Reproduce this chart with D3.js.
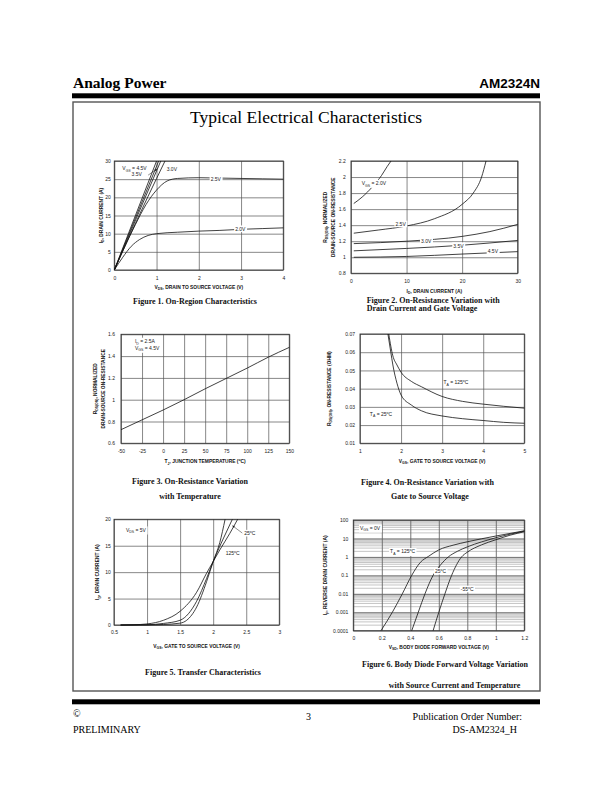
<!DOCTYPE html>
<html><head><meta charset="utf-8">
<script src="https://cdn.jsdelivr.net/npm/d3@7"></script>
<style>body{margin:0;background:#fff}</style>
</head><body><svg id="c" width="612" height="792" xmlns="http://www.w3.org/2000/svg"></svg>
<script>
// ---------------- DATA ----------------
// Figure 1: On-Region Characteristics (VDS [V], ID [A])
const f1XTicks = [0,1,2,3,4];
const f1YTicks = [0,5,10,15,20,25,30];
const f1Vgs45 = [[0,0],[1.0,30]];
const f1Vgs40 = [[0,0],[1.05,30]];
const f1Vgs35 = [[0,0],[1.1,30]];
const f1Vgs30 = [[0,0],[0.4,10.3],[0.8,20.3],[1.2,30]];
const f1Vgs25 = [[0,0],[0.25,6.5],[0.5,12.5],[0.75,18],[1.0,22],[1.25,24.5],[1.5,25.2],[2,25.4],[2.5,25.3],[3,25.2],[3.5,25.1],[4,25.0]];
const f1Vgs20 = [[0,0],[0.2,3.5],[0.4,6.5],[0.6,8.4],[0.8,9.5],[1.0,10.0],[1.5,10.4],[2,10.7],[2.5,10.9],[3,11.2],[3.5,11.4],[4,11.6]];
const f1Labels = [["V_{GS} = 4.5V",0.19,27.5],["3.5V",0.41,25.9],["3.0V",1.24,27.3],["2.5V",2.28,24.6],["2.0V",2.86,10.8]];

// Figure 2: On-Resistance vs Drain Current (ID [A], normalized R)
const f2XTicks = [0,10,20,30];
const f2YTicks = [0.8,1,1.2,1.4,1.6,1.8,2,2.2];
const f2Vgs20 = [[0.5,1.67],[2,1.75],[4,1.89],[5.5,2.02],[6.5,2.13],[7.2,2.2]];
const f2Vgs25 = [[0.5,1.30],[5,1.34],[10,1.39],[15,1.48],[20,1.66],[22,1.8],[23.5,2.0],[24.3,2.2]];
const f2Vgs30 = [[0.5,1.17],[10,1.20],[20,1.26],[25,1.32],[30,1.41]];
const f2Vgs35 = [[0.5,1.08],[10,1.11],[20,1.15],[30,1.21]];
const f2Vgs45 = [[0.5,1.0],[10,1.01],[20,1.04],[30,1.07]];
const f2Labels = [["V_{GS} = 2.0V",1.93,1.90],["2.5V",8.0,1.39],["3.0V",12.6,1.18],["3.5V",18.4,1.12],["4.5V",24.6,1.05]];

// Figure 3: On-Resistance vs Temperature (TJ [C], normalized R)
const f3XTicks = [-50,-25,0,25,50,75,100,125,150];
const f3YTicks = [0.6,0.8,1,1.2,1.4,1.6];
const f3Curve = [[-50,0.725],[-25,0.815],[0,0.905],[25,1.0],[50,1.1],[75,1.195],[100,1.29],[125,1.39],[150,1.48]];
const f3Labels = [["I_{D} = 2.5A",-33.4,1.52],["V_{GS} = 4.5V",-33.4,1.456]];

// Figure 4: On-Resistance vs Gate Voltage (VGS [V], R [ohm])
const f4XTicks = [1,2,3,4,5];
const f4YTicks = [0.01,0.02,0.03,0.04,0.05,0.06,0.07];
const f4T25 = [[1.68,0.07],[1.75,0.06],[1.8,0.053],[1.9,0.043],[2.0,0.0365],[2.25,0.031],[2.5,0.0278],[3,0.025],[3.5,0.0235],[4,0.0225],[4.5,0.0215],[5,0.021]];
const f4T125 = [[1.7,0.07],[1.8,0.058],[1.9,0.053],[2.0,0.049],[2.25,0.044],[2.5,0.041],[3,0.0357],[3.5,0.033],[4,0.0315],[4.5,0.0303],[5,0.0293]];
const f4Labels = [["T_{A} = 125^{o}C",3.03,0.0425],["T_{A} = 25^{o}C",1.24,0.025]];

// Figure 5: Transfer Characteristics (VGS [V], ID [A])
const f5XTicks = [0.5,1,1.5,2,2.5,3];
const f5YTicks = [0,5,10,15,20];
const f5Tm55 = [[0.6,0],[1.0,0.02],[1.25,0.1],[1.5,0.35],[1.6,0.9],[1.75,3.4],[1.9,8.2],[2.0,12],[2.1,15.6],[2.18,20]];
const f5T25 = [[0.6,0],[1.0,0.05],[1.25,0.3],[1.5,0.9],[1.75,4.5],[1.9,8.8],[2.0,12],[2.1,14.9],[2.2,17.6],[2.29,20]];
const f5T125 = [[0.6,0],[0.8,0.05],[1.0,0.2],[1.25,0.9],[1.5,2.6],[1.75,6.2],[1.9,9.8],[2.0,12],[2.1,14.2],[2.25,17.3],[2.37,20]];
const f5Labels = [["V_{DS} = 5V",0.68,17.65],["25^{o}C",2.47,17.0],["125^{o}C",2.19,13.2]];

// Figure 6: Body Diode Forward Voltage (VSD [V], IF [A], log)
const f6XTicks = [0,0.2,0.4,0.6,0.8,1,1.2];
const f6YTicks = [0.0001,0.001,0.01,0.1,1,10,100];
const f6T125 = [[0.194,1e-4],[0.274,1e-3],[0.344,1e-2],[0.41,0.1],[0.47,0.5],[0.53,1.1],[0.6,2.4],[0.7,4.3],[0.8,6.6],[1.0,13.5],[1.2,26]];
const f6T25 = [[0.41,1e-4],[0.456,1e-3],[0.503,1e-2],[0.56,0.1],[0.61,0.35],[0.667,1],[0.73,2],[0.8,3.5],[0.9,6.5],[1.0,11],[1.1,17],[1.2,25]];
const f6Tm55 = [[0.56,1e-4],[0.60,1e-3],[0.643,1e-2],[0.69,0.1],[0.76,1],[0.8,1.8],[0.9,4.5],[1.0,8.5],[1.1,15],[1.2,23]];
const f6Labels = [["V_{GS} = 0V",0.047,29.8],["T_{A} = 125^{o}C",0.258,1.57],["25^{o}C",0.573,0.129],["-55^{o}C",0.754,0.0142]];

// ---------------- DRAWING ----------------
const SANS = "'Liberation Sans', Arial, sans-serif";
const SERIF = "'Liberation Serif', 'Times New Roman', serif";
const svg = d3.select("#c");
svg.append("rect").attr("width",612).attr("height",792).attr("fill","#fff");

function rich(t, str){
  const fs = parseFloat(t.attr("font-size"));
  const parts = str.split(/(_\{[^}]*\}|\^\{[^}]*\})/).filter(s=>s.length);
  let shift = 0;
  parts.forEach(p=>{
    let txt=p, d=0, small=false;
    if (p.startsWith("_{")) {txt=p.slice(2,-1); d=0.3*fs; small=true;}
    else if (p.startsWith("^{")) {txt=p.slice(2,-1); d=-0.4*fs; small=true;}
    const ts = t.append("tspan").text(txt).attr("dy", d-shift);
    shift = d;
    if (small) ts.attr("font-size", fs*0.7);
  });
  return t;
}
function txt(g, x, y, str, o={}){
  const t = g.append("text").attr("x",x).attr("y",y)
    .attr("font-family", o.family||SANS).attr("font-size", o.size||5)
    .attr("font-weight", o.weight||"normal").attr("text-anchor", o.anchor||"start")
    .attr("fill", o.fill||"#111");
  if (o.rotate) t.attr("transform",`rotate(${o.rotate},${x},${y})`);
  return rich(t, str);
}

// Header
svg.append("text").attr("x",73).attr("y",87.5).attr("font-family",SERIF).attr("font-weight","bold")
  .attr("font-size",15.5).text("Analog Power");
svg.append("text").attr("x",540).attr("y",87.5).attr("text-anchor","end").attr("font-family",SANS)
  .attr("font-weight","bold").attr("font-size",13.5).text("AM2324N");
svg.append("rect").attr("x",72).attr("y",93.3).attr("width",468).attr("height",5).attr("fill","#000");
svg.append("rect").attr("x",73).attr("y",102).attr("width",467).attr("height",589)
  .attr("fill","none").attr("stroke","#555").attr("stroke-width",1.4);
svg.append("text").attr("x",306).attr("y",123).attr("text-anchor","middle").attr("font-family",SERIF)
  .attr("font-size",17.5).text("Typical Electrical Characteristics");

// Footer
svg.append("rect").attr("x",72).attr("y",699.3).attr("width",468).attr("height",5).attr("fill","#000");
svg.append("text").attr("x",73).attr("y",717).attr("font-family",SERIF).attr("font-size",10).text("\u00A9");
svg.append("text").attr("x",73).attr("y",733).attr("font-family",SERIF).attr("font-size",10).text("PRELIMINARY");
svg.append("text").attr("x",308.5).attr("y",720).attr("text-anchor","middle").attr("font-family",SERIF).attr("font-size",10).text("3");
svg.append("text").attr("x",522).attr("y",720).attr("text-anchor","end").attr("font-family",SERIF).attr("font-size",10).text("Publication Order Number:");
svg.append("text").attr("x",517).attr("y",733).attr("text-anchor","end").attr("font-family",SERIF).attr("font-size",10).text("DS-AM2324_H");

function panel(p){
  const g = svg.append("g");
  const x = d3.scaleLinear().domain(p.xDomain).range([p.x0,p.x1]);
  const y = (p.log? d3.scaleLog(): d3.scaleLinear()).domain(p.yDomain).range([p.y1,p.y0]);
  const W = p.x1-p.x0, H = p.y1-p.y0;
  if (p.log){
    const minors=[];
    p.yTicks.slice(0,-1).forEach(d=>{for(let m=2;m<=9;m++) minors.push(d*m);});
    g.selectAll(null).data(minors).join("line")
      .attr("x1",p.x0).attr("x2",p.x1).attr("y1",d=>y(d)).attr("y2",d=>y(d))
      .attr("stroke","#bdbdbd").attr("stroke-width",0.9);
  }
  const ax = g.append("g").attr("transform",`translate(0,${p.y1})`)
    .call(d3.axisBottom(x).tickValues(p.xTicks).tickSizeInner(-H).tickSizeOuter(0).tickPadding(p.xPad).tickFormat(p.xFmt||(d=>d)));
  const ay = g.append("g").attr("transform",`translate(${p.x0},0)`)
    .call(d3.axisLeft(y).tickValues(p.yTicks).tickSizeInner(-W).tickSizeOuter(0).tickPadding(p.yPad).tickFormat(p.yFmt||(d=>d)));
  [ax,ay].forEach(a=>{
    a.select(".domain").remove();
    a.selectAll(".tick line").attr("stroke", p.log?"#666":"#555").attr("stroke-width",p.log?0.9:0.7);
    a.selectAll(".tick text").attr("font-family",SANS).attr("font-size",5).attr("fill","#222");
  });
  g.append("rect").attr("x",p.x0).attr("y",p.y0).attr("width",W).attr("height",H)
    .attr("fill","none").attr("stroke","#333").attr("stroke-width",0.9);
  txt(g, (p.x0+p.x1)/2, p.xLabY, p.xLabel, {anchor:"middle", weight:"bold", size:4.9});
  p.yLabel.forEach((s,i)=> txt(g, p.yLabX[i], (p.y0+p.y1)/2, s, {anchor:"middle", weight:"bold", size:4.9, rotate:-90}));
  p.caption.forEach((c,i)=> txt(g, c[1], c[2], c[0], {family:SERIF, weight:"bold", size:8, anchor:c[3]||"middle"}));
  const cg = g.append("g");
  p.series.forEach(s=>{
    cg.append("path").datum(s.data)
      .attr("d", d3.line().x(d=>x(d[0])).y(d=>y(d[1])).curve(s.linear?d3.curveLinear:d3.curveMonotoneX))
      .attr("fill","none").attr("stroke","#111").attr("stroke-width",0.8);
  });
  (p.labels||[]).forEach(l=>{
    const t = txt(g, x(l[1]), y(l[2]), l[0], {size:5, fill:"#222"});
    if (p.labelBg){
      const b = t.node().getBBox();
      g.insert("rect", function(){return t.node();}).attr("x",b.x-1).attr("y",b.y-0.3).attr("width",b.width+2).attr("height",b.height+0.6).attr("fill","#fff");
    }
  });
  (p.arrows||[]).forEach(a=>{
    g.append("line").attr("x1",x(a[0])).attr("y1",y(a[1])).attr("x2",x(a[2])).attr("y2",y(a[3]))
      .attr("stroke","#222").attr("stroke-width",0.5);
    const ang = Math.atan2(y(a[3])-y(a[1]), x(a[2])-x(a[0]));
    const hx=x(a[2]), hy=y(a[3]), L=2.5, w=0.45;
    g.append("path").attr("d",`M${hx},${hy}L${hx-L*Math.cos(ang-w)},${hy-L*Math.sin(ang-w)}L${hx-L*Math.cos(ang+w)},${hy-L*Math.sin(ang+w)}Z`).attr("fill","#111");
  });
  return {x,y,g};
}

panel({x0:114.3,x1:283.3,y0:161,y1:270, xDomain:[0,4], yDomain:[0,30], xTicks:f1XTicks, yTicks:f1YTicks,
  xPad:6.5, yPad:3.6, xLabel:"V_{DS}, DRAIN TO SOURCE VOLTAGE (V)", xLabY:288.5,
  yLabel:["I_{D}, DRAIN CURRENT (A)"], yLabX:[102.5],
  caption:[["Figure 1. On-Region Characteristics",195,303.5]],
  series:[{data:f1Vgs45,linear:true},{data:f1Vgs40,linear:true},{data:f1Vgs35,linear:true},{data:f1Vgs30},{data:f1Vgs25},{data:f1Vgs20}],
  labels:f1Labels, labelBg:true, arrows:[[0.8,26.1,1.01,27.8]]});

panel({x0:351,x1:517.7,y0:161,y1:273.3, xDomain:[0,30], yDomain:[0.8,2.2], xTicks:f2XTicks, yTicks:f2YTicks,
  xPad:6.6, yPad:5.3, xLabel:"I_{D}, DRAIN CURRENT (A)", xLabY:292.5,
  yLabel:["R_{DS(ON)}, NORMALIZED","DRAIN-SOURCE ON-RESISTANCE"], yLabX:[327,334.8],
  caption:[["Figure 2. On-Resistance Variation with",366.7,302.7,"start"],["Drain Current and Gate Voltage",366.7,311.2,"start"]],
  series:[{data:f2Vgs20},{data:f2Vgs25},{data:f2Vgs30},{data:f2Vgs35},{data:f2Vgs45}],
  labels:f2Labels, labelBg:true});

panel({x0:121,x1:289.3,y0:334.3,y1:443.3, xDomain:[-50,150], yDomain:[0.6,1.6], xTicks:f3XTicks, yTicks:f3YTicks,
  xPad:6.6, yPad:6, xLabel:"T_{J}, JUNCTION TEMPERATURE (^{o}C)", xLabY:463.3,
  yLabel:["R_{DS(ON)}, NORMALIZED","DRAIN-SOURCE ON-RESISTANCE"], yLabX:[97,105],
  caption:[["Figure 3. On-Resistance Variation",190,484.3],["with Temperature",190,499.3]],
  series:[{data:f3Curve}], labels:f3Labels, labelBg:true});

panel({x0:360,x1:524.3,y0:334,y1:443.3, xDomain:[1,5], yDomain:[0.01,0.07], xTicks:f4XTicks, yTicks:f4YTicks,
  xPad:5.9, yPad:5, xLabel:"V_{GS}, GATE TO SOURCE VOLTAGE (V)", xLabY:462.8,
  yLabel:["R_{DS(ON)}, ON-RESISTANCE (OHM)"], yLabX:[331],
  caption:[["Figure 4. On-Resistance Variation with",427.5,484.5],["Gate to Source Voltage",430,499]],
  series:[{data:f4T25},{data:f4T125}], labels:f4Labels, labelBg:false});

panel({x0:114,x1:279.3,y0:519.3,y1:625, xDomain:[0.5,3], yDomain:[0,20], xTicks:f5XTicks, yTicks:f5YTicks,
  xPad:5.5, yPad:3.3, xLabel:"V_{GS}, GATE TO SOURCE VOLTAGE (V)", xLabY:647.8,
  yLabel:["I_{D}, DRAIN CURRENT (A)"], yLabX:[99.5],
  caption:[["Figure 5. Transfer Characteristics",203,675]],
  series:[{data:f5Tm55},{data:f5T25},{data:f5T125}], labels:f5Labels, labelBg:true,
  arrows:[[2.44,17.4,2.29,18.8]]});

panel({x0:353.3,x1:524.3,y0:520,y1:630.7, xDomain:[0,1.2], yDomain:[0.0001,100], log:true, xTicks:f6XTicks, yTicks:f6YTicks,
  xPad:5.8, yPad:5, yFmt:d=>String(d), xLabel:"V_{SD}, BODY DIODE FORWARD VOLTAGE (V)", xLabY:648.5,
  yLabel:["I_{F}, REVERSE DRAIN CURRENT (A)"], yLabX:[327.5],
  caption:[["Figure 6. Body Diode Forward Voltage Variation",445,666.5],["with Source Current and Temperature",454.5,687.5]],
  series:[{data:f6T125},{data:f6T25},{data:f6Tm55}], labels:f6Labels, labelBg:true});
</script>
</body></html>
